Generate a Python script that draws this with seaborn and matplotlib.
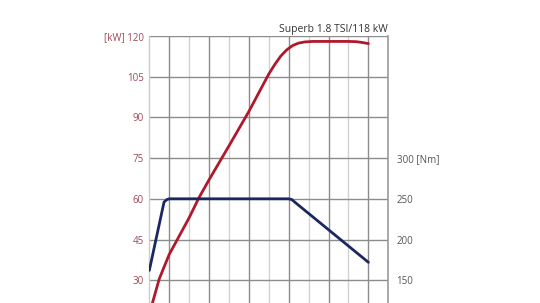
import matplotlib
matplotlib.use("Agg")
import matplotlib.pyplot as plt
import seaborn as sns
from matplotlib.ticker import FixedLocator, FixedFormatter

# ---- data ----
rpm_power = [1000, 1250, 1500, 2000, 2250, 2500, 3000, 3500, 4000, 4150, 4300, 4450, 4600, 4750, 4900, 5100, 5500, 6000, 6200, 6350, 6500]
power_kw = [17.5, 30.5, 39.5, 53.0, 60.5, 67.0, 79.5, 92.2, 106.0, 109.5, 112.6, 114.9, 116.5, 117.4, 117.8, 118.0, 118.0, 118.0, 117.9, 117.6, 117.2]

rpm_torque = [1000, 1370, 1440, 1500, 4500, 4580, 4650, 5000, 5500, 6000, 6500]
torque_nm = [162, 246, 249, 250, 250, 249, 246, 232, 212, 192, 172]

kw_ticks = [30, 45, 60, 75, 90, 105, 120]
kw_labels = ["30", "45", "60", "75", "90", "105", "[kW] 120"]
nm_ticks = [150, 200, 250, 300]
nm_labels = ["150", "200", "250", "300 [Nm]"]
title = "Superb 1.8 TSI/118 kW"

sns.set_style("white")
plt.rcParams['font.family'] = ['Open Sans', 'DejaVu Sans']

W, H = 540, 303
fig = plt.figure(figsize=(W / 100, H / 100), dpi=100)
left_px, right_px = 149.3, 388.3
top_px, zero_px = 36.0, 361.6
ax = fig.add_axes([left_px / W, 1 - zero_px / H, (right_px - left_px) / W, (zero_px - top_px) / H])
ax.set_xlim(1000, 7000)
ax.set_ylim(0, 120)
ax.set_axisbelow(True)

# grid
ax.xaxis.set_major_locator(FixedLocator([1500, 2500, 3500, 4500, 5500, 6500]))
ax.xaxis.set_minor_locator(FixedLocator([2000, 3000, 4000, 5000, 6000]))
ax.grid(which='major', axis='x', color='#8c8c8c', lw=1.0)
ax.grid(which='minor', axis='x', color='#d2d2d2', lw=1.0)
ax.yaxis.set_major_locator(FixedLocator(kw_ticks))
ax.yaxis.set_major_formatter(FixedFormatter(kw_labels))
ax.grid(which='major', axis='y', color='#8c8c8c', lw=1.0)
ax.tick_params(axis='x', which='both', length=0, labelbottom=False)
ax.tick_params(axis='y', length=0, pad=4, labelsize=7, labelcolor='#a04858')

for s in ['top', 'bottom', 'right']:
    ax.spines[s].set_visible(False)
ax.spines['left'].set_color('#cccccc')
ax.spines['left'].set_linewidth(1.0)

sns.lineplot(x=rpm_power, y=power_kw, ax=ax, color='#b0182c', lw=2.0)

ax2 = ax.twinx()
ax2.set_ylim(50, 450)
ax2.yaxis.set_major_locator(FixedLocator(nm_ticks))
ax2.yaxis.set_major_formatter(FixedFormatter(nm_labels))
ax2.tick_params(axis='y', length=0, pad=6, labelsize=7, labelcolor='#555555')
for s in ['top', 'bottom', 'left']:
    ax2.spines[s].set_visible(False)
ax2.spines['right'].set_color('#9a9a9a')
ax2.spines['right'].set_linewidth(1.2)
sns.lineplot(x=rpm_torque, y=torque_nm, ax=ax2, color='#1a2860', lw=2.0)
ax.set_xlabel(""); ax.set_ylabel(""); ax2.set_ylabel("")

fig.text(388 / W, 1 - 29.5 / H, title, ha='right', va='center', fontsize=7.5, color='#333333')

fig.savefig("out.png", dpi=100)
